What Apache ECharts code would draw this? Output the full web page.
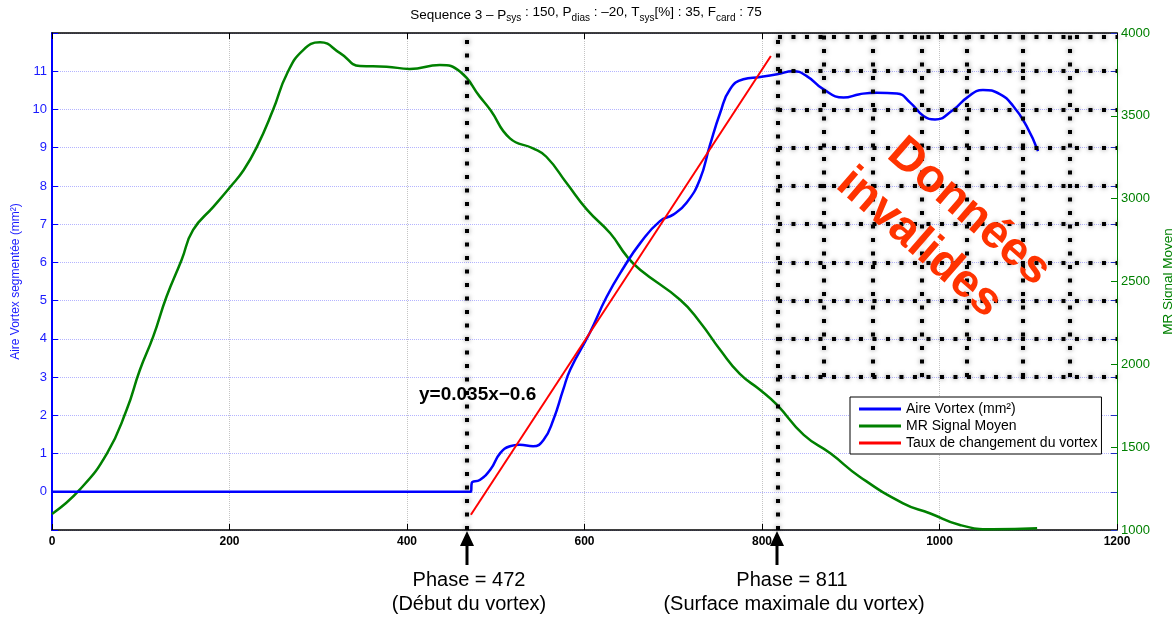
<!DOCTYPE html>
<html>
<head>
<meta charset="utf-8">
<title>Sequence 3</title>
<script src="https://cdn.jsdelivr.net/npm/echarts@6/dist/echarts.min.js"></script>
<style>
  html, body { margin: 0; padding: 0; background: #fff; }
  #chart { width: 1172px; height: 619px; }
</style>
</head>
<body>
<div id="chart"></div>
<script>
// Aire vortex (axe gauche, mm2)
const areaPhase = [0, 472, 473, 482, 494, 505, 516, 527, 542, 554, 565, 576, 584, 606, 625, 644, 663, 685, 700, 715,
  730, 741, 753, 764, 779, 798, 817, 835, 850, 869, 892, 910, 929, 952, 967, 982, 995, 1016, 1031, 1049, 1068, 1083, 1098, 1111];
const areaValue = [0, 0, 0.23, 0.31, 0.58, 1.01, 1.19, 1.23, 1.19, 1.36, 1.89, 2.67, 3.2, 4.16, 5.1, 5.86, 6.51, 7.08, 7.25, 7.56,
  8.17, 9.04, 9.92, 10.53, 10.79, 10.85, 10.92, 11.0, 10.88, 10.53, 10.31, 10.4, 10.44, 10.42, 10.18, 9.83, 9.74, 10.0, 10.31, 10.51, 10.4, 10.09, 9.57, 8.91];

// MR signal moyen (axe droit)
const signalPhase = [0, 31, 62, 84, 99, 114, 129, 146, 159, 182, 201, 216, 231, 249, 265, 283, 302, 325, 347, 377, 403, 437, 460,
  482, 494, 516, 542, 557, 580, 603, 629, 648, 663, 708, 730, 753, 775, 798, 817, 847, 877, 910, 959, 989, 1023, 1060, 1110];
const signalValue = [1097, 1242, 1463, 1724, 1966, 2167, 2408, 2630, 2811, 2952, 3072, 3173, 3314, 3535, 3757, 3897, 3944, 3877, 3801, 3797, 3783, 3807, 3766,
  3616, 3535, 3364, 3304, 3253, 3093, 2932, 2791, 2650, 2569, 2388, 2256, 2086, 1942, 1845, 1755, 1574, 1463, 1322, 1161, 1101, 1030, 1004, 1010];

// droite de regression (taux de changement)
const fitPhase = [472, 810];
const fitValue = [-0.6, 11.4];

// phases marquees et zone invalide
const phaseMarks = [467, 818];
const invalidRows = [11.9, 11, 10, 9, 8, 7, 6, 5, 4, 3];
const invalidCols = [870, 925, 980, 1031, 1094, 1147];

const FONT = 'Liberation Sans, Arial, sans-serif';
const zip = (xs, ys) => xs.map((x, i) => [x, ys[i]]);

const dots = {
  color: '#000', width: 4, type: [4, 9.5], cap: 'butt',
  shadowBlur: 5, shadowColor: 'rgba(0,0,0,0.5)'
};

const overlay = [];
phaseMarks.forEach(x => overlay.push([{ coord: [x, -1] }, { coord: [x, 12] }]));
invalidRows.forEach(y => overlay.push([{ coord: [818, y] }, { coord: [1200, y] }]));
invalidCols.forEach(x => overlay.push([{ coord: [x, 3] }, { coord: [x, 12] }]));

const chart = echarts.init(document.getElementById('chart'));

function arrow(x) {
  return {
    type: 'group',
    children: [
      { type: 'line', shape: { x1: x, y1: 544, x2: x, y2: 565 }, style: { stroke: '#000', lineWidth: 3 } },
      { type: 'polygon', shape: { points: [[x, 531], [x - 7, 546], [x + 7, 546]] }, style: { fill: '#000' } }
    ]
  };
}

function label(x, y, text) {
  return {
    type: 'text', x: x, y: y,
    style: { text: text, font: '20px ' + FONT, fill: '#000', align: 'center', verticalAlign: 'middle' }
  };
}

chart.setOption({
  animation: false,
  textStyle: { fontFamily: FONT },
  title: {
    text: 'Sequence 3 \u2013 P{s|sys}{n| : 150, P}{s|dias}{n| : \u201320, T}{s|sys}{n|[%] : 35, F}{s|card}{n| : 75}',
    left: 'center',
    top: 3,
    textStyle: {
      fontSize: 13.5, fontWeight: 'normal', color: '#000',
      rich: {
        n: { fontSize: 13.5, lineHeight: 15, padding: [0, 0, 6, 0], color: '#000' },
        s: { fontSize: 10, lineHeight: 11, padding: [8, 0, 2, 0], color: '#000' }
      }
    }
  },
  legend: {
    orient: 'vertical',
    left: 850,
    top: 397,
    selectedMode: false,
    icon: 'rect',
    itemWidth: 42,
    itemHeight: 3,
    itemGap: 3,
    padding: [5, 4, 4, 9],
    borderColor: '#000',
    borderWidth: 1,
    backgroundColor: '#fff',
    textStyle: { fontSize: 14, color: '#000' },
    data: ['Aire Vortex (mm\u00b2)', 'MR Signal Moyen', 'Taux de changement du vortex']
  },
  grid: { left: 52, right: 55, top: 33, bottom: 89, outerBoundsMode: 'none' },
  xAxis: [
    {
      type: 'value', min: 0, max: 1200, interval: 200,
      axisLine: { onZero: false, lineStyle: { color: '#000', width: 1.5 } },
      axisTick: { inside: true, length: 6, lineStyle: { color: '#000' } },
      axisLabel: { color: '#000', fontSize: 12, fontWeight: 'bold', margin: 6, formatter: v => String(v) },
      splitLine: { lineStyle: { color: '#c4c4c4', type: 'dotted' } }
    },
    {
      type: 'value', position: 'top', min: 0, max: 1200, interval: 200,
      axisLine: { onZero: false, lineStyle: { color: '#000', width: 1.5 } },
      axisTick: { inside: true, length: 6, lineStyle: { color: '#000' } },
      axisLabel: { show: false },
      splitLine: { show: false }
    }
  ],
  yAxis: [
    {
      type: 'value', min: -1, max: 12, interval: 1, position: 'left',
      name: 'Aire Vortex segment\u00e9e (mm\u00b2)',
      nameLocation: 'middle', nameGap: 28, nameRotate: 90,
      nameTextStyle: { color: '#1a1aff', fontSize: 12 },
      axisLine: { show: true, onZero: false, lineStyle: { color: '#0000ff', width: 2 } },
      axisTick: { show: true, inside: true, length: 6, lineStyle: { color: '#0000ff' } },
      axisLabel: {
        color: '#1a1aff', fontSize: 13, margin: 5,
        formatter: v => (v < 0 || v > 11 ? '' : String(v))
      },
      splitLine: { lineStyle: { color: '#b4b4ff', type: 'dotted' } }
    },
    {
      type: 'value', min: 1000, max: 4000, interval: 500, position: 'right',
      name: 'MR Signal Moyen',
      nameLocation: 'middle', nameGap: 40, nameRotate: 90,
      nameTextStyle: { color: '#008000', fontSize: 13.5 },
      axisLine: { show: true, onZero: false, lineStyle: { color: '#008000', width: 1 } },
      axisTick: { show: true, inside: true, length: 6, lineStyle: { color: '#008000' } },
      axisLabel: { color: '#008000', fontSize: 13, margin: 4, formatter: v => String(v) },
      splitLine: { show: false }
    },
    {
      type: 'value', min: -1, max: 12, interval: 1, position: 'right',
      axisLine: { show: false, onZero: false },
      axisTick: { show: true, inside: true, length: 6, lineStyle: { color: '#2030c0' } },
      axisLabel: { show: false },
      splitLine: { show: false }
    }
  ],
  series: [
    {
      name: 'Aire Vortex (mm\u00b2)',
      type: 'line',
      yAxisIndex: 0,
      data: zip(areaPhase, areaValue),
      showSymbol: false,
      smooth: 0.5,
      z: 3,
      itemStyle: { color: '#0000ff' },
      lineStyle: { color: '#0000ff', width: 2.5 }
    },
    {
      name: 'MR Signal Moyen',
      type: 'line',
      yAxisIndex: 1,
      data: zip(signalPhase, signalValue),
      showSymbol: false,
      smooth: 0.5,
      z: 2,
      itemStyle: { color: '#008000' },
      lineStyle: { color: '#008000', width: 2.5 }
    },
    {
      name: 'Taux de changement du vortex',
      type: 'line',
      yAxisIndex: 0,
      data: zip(fitPhase, fitValue),
      showSymbol: false,
      z: 5,
      itemStyle: { color: '#ff0000' },
      lineStyle: { color: '#ff0000', width: 2 },
      markLine: {
        silent: true,
        symbol: ['none', 'none'],
        label: { show: false },
        lineStyle: dots,
        emphasis: { disabled: true },
        data: overlay
      }
    }
  ],
  graphic: [
    {
      type: 'text', left: 419, top: 385, z: 1,
      style: { text: 'y=0.035x\u22120.6', font: 'bold 19px ' + FONT, fill: '#000' }
    },
    {
      type: 'text', x: 969, y: 212, rotation: -0.716, z: 20,
      style: { text: 'Donn\u00e9es', font: 'bold 47px ' + FONT, fill: '#ff3300', align: 'center', verticalAlign: 'middle' }
    },
    {
      type: 'text', x: 919, y: 243, rotation: -0.716, z: 20,
      style: { text: 'invalides', font: 'bold 47px ' + FONT, fill: '#ff3300', align: 'center', verticalAlign: 'middle' }
    },
    arrow(467),
    arrow(777),
    label(469, 580, 'Phase = 472'),
    label(469, 604, '(D\u00e9but du vortex)'),
    label(792, 580, 'Phase = 811'),
    label(794, 604, '(Surface maximale du vortex)')
  ]
});
</script>
</body>
</html>
